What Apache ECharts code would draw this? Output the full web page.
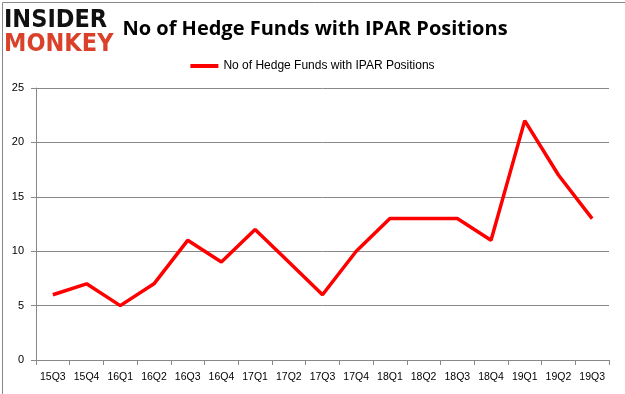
<!DOCTYPE html>
<html><head><meta charset="utf-8">
<script src="https://cdn.jsdelivr.net/npm/echarts@6/dist/echarts.min.js"></script>
<style>html,body{margin:0;padding:0;background:#fff}#c{width:625px;height:394px}</style>
</head><body><div id="c"></div>
<script>
const categories = ['15Q3','15Q4','16Q1','16Q2','16Q3','16Q4','17Q1','17Q2','17Q3','17Q4','18Q1','18Q2','18Q3','18Q4','19Q1','19Q2','19Q3'];
const values = [6,7,5,7,11,9,12,9,6,10,13,13,13,11,22,17,13];
const seriesName = 'No of Hedge Funds with IPAR Positions';
const titleText = 'No of Hedge Funds with IPAR Positions';

const chart = echarts.init(document.getElementById('c'), null, {renderer:'canvas'});
chart.setOption({
  animation:false,
  backgroundColor:'#fff',
  title:{text:titleText,left:310,top:14,textAlign:'center',
    textStyle:{fontFamily:'Open Sans',fontWeight:'bold',fontSize:20,color:'#000'}},
  legend:{top:55,left:'center',itemWidth:28,itemHeight:4,itemGap:3,
    icon:'rect',
    textStyle:{fontFamily:'Liberation Sans',fontSize:12,color:'#000'},
    data:[seriesName]},
  grid:{left:36,right:16,top:88,bottom:34},
  xAxis:{type:'category',data:categories,boundaryGap:true,
    axisLine:{lineStyle:{color:'#888'}},
    axisTick:{show:true,interval:0,lineStyle:{color:'#888'},length:5},
    axisLabel:{interval:0,color:'#000',fontFamily:'Liberation Sans',fontSize:10.5,margin:12}},
  yAxis:{type:'value',min:0,max:25,interval:5,
    axisLine:{show:true,lineStyle:{color:'#888'}},
    axisTick:{show:true,length:5,lineStyle:{color:'#888'}},
    splitLine:{lineStyle:{color:'#888'}},
    axisLabel:{color:'#000',fontFamily:'Liberation Sans',fontSize:11,margin:12}},
  series:[{name:seriesName,type:'line',data:values,symbol:'none',
    lineStyle:{color:'#ff0000',width:3.5},itemStyle:{color:'#ff0000'}}],
  graphic:[
    {type:'rect',left:0,top:0,shape:{x:0.5,y:0.5,width:624,height:393},
      style:{fill:'none',stroke:'#888',lineWidth:1},silent:true},
    {type:'text',left:4,top:8,style:{text:'INSIDER',fontFamily:'DejaVu Sans Condensed',fontWeight:'bold',fontSize:25,fill:'#111'}},
    {type:'text',left:4,top:32,style:{text:'MONKEY',fontFamily:'DejaVu Sans Condensed',fontWeight:'bold',fontSize:25,fill:'#d9412b'}}
  ]
});
</script></body></html>
